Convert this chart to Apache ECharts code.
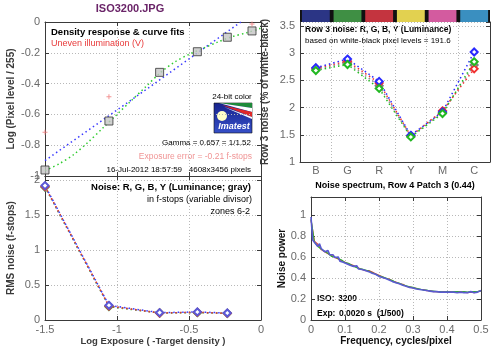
<!DOCTYPE html>
<html><head><meta charset="utf-8">
<script src="https://cdn.jsdelivr.net/npm/echarts@6/dist/echarts.min.js"></script>
<style>html,body{margin:0;padding:0;background:#fff}#c{width:500px;height:352px}</style>
</head><body><div id="c"></div>
<script>
// ---------- data ----------
const logExposure = [-1.5, -1.056, -0.704, -0.442, -0.234, -0.0625];
const logPixel = [-0.961, -0.643, -0.327, -0.193, -0.099, -0.058];
const unevenX = [-1.5, -1.056, -0.0625];
const unevenY = [-0.716, -0.485, -0.013];
const gammaFitX = [-1.5, -0.8, -0.14];
const gammaFitY = [-0.90, -0.44, 0.0];
const curveFitX = [-1.5, -1.4, -1.3, -1.2, -1.1, -1.0, -0.9, -0.8, -0.7, -0.6, -0.5, -0.4, -0.3, -0.2, -0.1, 0];
const curveFitY = [-0.965, -0.92, -0.86, -0.78, -0.69, -0.60, -0.51, -0.42, -0.33, -0.26, -0.21, -0.17, -0.13, -0.095, -0.07, -0.04];

const noiseStopsR = [1.91, 0.20, 0.10, 0.11, 0.095];
const noiseStopsG = [1.90, 0.19, 0.10, 0.105, 0.095];
const noiseStopsB = [1.92, 0.21, 0.105, 0.115, 0.10];
const noiseStopsY = [1.90, 0.20, 0.10, 0.11, 0.095];

const patches = ['B', 'G', 'R', 'Y', 'M', 'C'];
const patchColors = ['#2b3585', '#3f8f44', '#c4343f', '#e2d150', '#d35b9f', '#3a8fc0'];
const rowNoiseR = [2.72, 2.85, 2.45, 1.48, 1.94, 2.71];
const rowNoiseG = [2.68, 2.79, 2.35, 1.46, 1.89, 2.84];
const rowNoiseB = [2.73, 2.89, 2.48, 1.49, 1.92, 3.02];
const rowNoiseY = [2.70, 2.82, 2.40, 1.47, 1.91, 2.78];

const freq = [0,0.005,0.01,0.015,0.02,0.025,0.03,0.035,0.04,0.045,0.05,0.055,0.06,0.065,0.07,0.075,0.08,0.085,0.09,0.095,
0.1,0.105,0.11,0.115,0.12,0.125,0.13,0.135,0.14,0.145,0.15,0.155,0.16,0.165,0.17,0.175,0.18,0.185,0.19,0.195,
0.2,0.205,0.21,0.215,0.22,0.225,0.23,0.235,0.24,0.245,0.25,0.255,0.26,0.265,0.27,0.275,0.28,0.285,0.29,0.295,
0.3,0.305,0.31,0.315,0.32,0.325,0.33,0.335,0.34,0.345,0.35,0.355,0.36,0.365,0.37,0.375,0.38,0.385,0.39,0.395,
0.4,0.405,0.41,0.415,0.42,0.425,0.43,0.435,0.44,0.445,0.45,0.455,0.46,0.465,0.47,0.475,0.48,0.485,0.49,0.495,0.5];
const spectrumB = [0.98,0.76,0.74,0.735,0.70,0.725,0.68,0.665,0.65,0.64,0.66,0.62,0.605,0.62,0.595,0.59,0.60,0.56,0.575,0.55,
0.555,0.535,0.545,0.52,0.525,0.51,0.50,0.515,0.485,0.50,0.48,0.485,0.47,0.475,0.46,0.465,0.445,0.45,0.435,0.435,
0.415,0.42,0.405,0.405,0.395,0.395,0.38,0.38,0.365,0.37,0.355,0.355,0.345,0.345,0.33,0.335,0.32,0.325,0.31,0.315,
0.305,0.31,0.295,0.305,0.29,0.295,0.285,0.29,0.28,0.29,0.275,0.28,0.27,0.28,0.27,0.275,0.265,0.275,0.265,0.275,
0.265,0.275,0.265,0.28,0.265,0.27,0.26,0.275,0.265,0.27,0.26,0.275,0.26,0.265,0.27,0.28,0.26,0.275,0.265,0.275,0.28];
const freq2 = [0,0.01,0.02,0.03,0.04,0.05,0.06,0.07,0.08,0.09,0.1,0.11,0.12,0.13,0.14,0.15,0.16,0.17,0.18,0.19,
0.2,0.21,0.22,0.23,0.24,0.25,0.26,0.27,0.28,0.29,0.3,0.31,0.32,0.33,0.34,0.35,0.36,0.37,0.38,0.39,
0.4,0.41,0.42,0.43,0.44,0.45,0.46,0.47,0.48,0.49,0.5];
const spectrumR = [0.95,0.75,0.72,0.67,0.65,0.63,0.615,0.595,0.58,0.565,0.55,0.535,0.525,0.51,0.495,0.48,0.47,0.47,0.455,0.44,
0.425,0.41,0.395,0.39,0.37,0.36,0.345,0.34,0.32,0.315,0.305,0.30,0.29,0.29,0.28,0.28,0.27,0.27,0.265,0.27,
0.265,0.27,0.265,0.27,0.27,0.265,0.26,0.265,0.26,0.27,0.275];
const spectrumG = [0.96,0.74,0.70,0.675,0.655,0.635,0.605,0.60,0.585,0.57,0.545,0.54,0.52,0.505,0.49,0.485,0.475,0.465,0.45,0.435,
0.42,0.41,0.40,0.385,0.375,0.355,0.35,0.335,0.325,0.315,0.31,0.30,0.295,0.285,0.285,0.275,0.275,0.27,0.27,0.265,
0.27,0.265,0.27,0.27,0.265,0.27,0.265,0.27,0.27,0.27,0.28];

// ---------- helpers ----------
const FONT = 'Liberation Sans, Arial, sans-serif';
const zip = (xs, ys) => xs.map((x, i) => [x, ys[i]]);
const axisLineStyle = { color: '#3a3a3a', width: 1 };
const tickLbl = { color: '#6a6a6a', fontSize: 11, fontFamily: FONT };
const dotted = { show: true, lineStyle: { color: '#b8b8b8', type: [1, 2], width: 1 } };
function valAxis(grid, pos, min, max, interval, opts) {
  const main = pos === 'left' || pos === 'bottom';
  return Object.assign({
    type: 'value', gridIndex: grid, position: pos, min, max, interval,
    axisLine: { show: true, onZero: false, lineStyle: axisLineStyle },
    axisTick: { show: true, inside: true, length: 4, lineStyle: axisLineStyle },
    axisLabel: main ? Object.assign({ showMaxLabel: false, margin: 5 }, tickLbl) : { show: false },
    splitLine: main ? dotted : { show: false }
  }, opts || {});
}
const nameStyle = { fontFamily: FONT, fontWeight: 'bold', fontSize: 10, color: '#3a3a3a' };
const plusSym = 'path://M4,0H6V4H10V6H6V10H4V6H0V4H4Z';
const dotLine = (c) => ({ color: c, width: 1.5, type: [1.5, 3], cap: 'butt' });

const chart = echarts.init(document.getElementById('c'), null, { renderer: 'canvas' });

function txt(x, y, s, o) {
  return { type: 'text', x, y, silent: true, style: Object.assign({ text: s, fontFamily: FONT, fontSize: 8, fill: '#000', textVerticalAlign: 'middle', verticalAlign: 'middle' }, o || {}) };
}

const option = {
  animation: false,
  backgroundColor: '#fff',
  grid: [
    { left: 45, top: 22, width: 216, height: 154, containLabel: false, outerBoundsMode: 'none' },
    { left: 45, top: 176, width: 216, height: 144, containLabel: false, outerBoundsMode: 'none' },
    { left: 300, top: 22, width: 190, height: 140, containLabel: false, outerBoundsMode: 'none' },
    { left: 311, top: 197, width: 170, height: 123, containLabel: false, outerBoundsMode: 'none' },
    { left: 300, top: 10, width: 190, height: 12, show: true, backgroundColor: '#111', borderWidth: 0, containLabel: false, outerBoundsMode: 'none' }
  ],
  xAxis: [
    valAxis(0, 'bottom', -1.5, 0, 0.5, { axisLabel: { show: false } }),
    valAxis(0, 'top', -1.5, 0, 0.5),
    valAxis(1, 'bottom', -1.5, 0, 0.5, { axisLabel: Object.assign({ margin: 4 }, tickLbl), name: 'Log Exposure ( -Target density )', nameLocation: 'middle', nameGap: 16, nameTextStyle: Object.assign({}, nameStyle, { fontSize: 9.5 }) }),
    valAxis(1, 'top', -1.5, 0, 0.5),
    { type: 'category', gridIndex: 2, data: patches, position: 'bottom', boundaryGap: true,
      axisLine: { show: true, lineStyle: axisLineStyle }, axisTick: { show: false },
      axisLabel: Object.assign({ margin: 3 }, tickLbl), splitLine: dotted },
    valAxis(3, 'bottom', 0, 0.5, 0.1, { axisLabel: Object.assign({ margin: 4 }, tickLbl), name: 'Frequency, cycles/pixel', nameLocation: 'middle', nameGap: 15, nameTextStyle: Object.assign({}, nameStyle, { color: '#111' }) }),
    valAxis(3, 'top', 0, 0.5, 0.1),
    { type: 'category', gridIndex: 4, data: patches, show: false, boundaryGap: true }
  ],
  yAxis: [
    valAxis(0, 'left', -1, 0, 0.2, { axisLabel: Object.assign({ margin: 5, showMaxLabel: true, showMinLabel: true }, tickLbl), name: 'Log (Pixel level / 255)', nameLocation: 'middle', nameGap: 29, nameTextStyle: nameStyle }),
    valAxis(0, 'right', -1, 0, 0.2),
    valAxis(1, 'left', 0, 2.057, 0.5, { name: 'RMS noise (f-stops)', nameLocation: 'middle', nameGap: 29, nameTextStyle: nameStyle }),
    valAxis(1, 'right', 0, 2.057, 0.5),
    valAxis(2, 'left', 1, 3.57, 0.5, { name: 'Row 3 noise (% of white-black)', nameLocation: 'middle', nameGap: 30, nameTextStyle: nameStyle }),
    valAxis(2, 'right', 1, 3.57, 0.5),
    valAxis(3, 'left', 0, 1.17, 0.2, { name: 'Noise power', nameLocation: 'middle', nameGap: 24, nameTextStyle: Object.assign({}, nameStyle, { color: '#111' }) }),
    valAxis(3, 'right', 0, 1.17, 0.2),
    { type: 'value', gridIndex: 4, min: 0, max: 1, show: false }
  ],
  series: [
    // top-left
    { type: 'line', xAxisIndex: 0, yAxisIndex: 0, data: zip(gammaFitX, gammaFitY), showSymbol: false, lineStyle: dotLine('#3a3aff'), z: 3 },
    { type: 'line', xAxisIndex: 0, yAxisIndex: 0, data: zip(curveFitX, curveFitY), smooth: 0.3, showSymbol: false, lineStyle: dotLine('#2ecc2e'), z: 3 },
    { type: 'scatter', xAxisIndex: 0, yAxisIndex: 0, data: zip(logExposure, logPixel), symbol: 'rect', symbolSize: 8, clip: false,
      itemStyle: { color: '#c4c4c4', borderColor: '#333', borderWidth: 1 }, z: 4 },
    { type: 'scatter', xAxisIndex: 0, yAxisIndex: 0, data: zip(unevenX, unevenY), symbol: plusSym, symbolSize: 5, clip: false,
      itemStyle: { color: '#f07a7a' }, z: 4 },
    // bottom-left
    { type: 'line', xAxisIndex: 2, yAxisIndex: 2, data: zip(logExposure.slice(0, 5), noiseStopsG), symbol: 'emptyDiamond', symbolSize: 7, lineStyle: dotLine('#3ab83a'), itemStyle: { color: '#3ab83a', borderWidth: 1.3 }, z: 3 },
    { type: 'line', xAxisIndex: 2, yAxisIndex: 2, data: zip(logExposure.slice(0, 5), noiseStopsY), symbol: 'emptyDiamond', symbolSize: 7, lineStyle: dotLine('#8a8a8a'), itemStyle: { color: '#808080', borderWidth: 1.3 }, z: 3 },
    { type: 'line', xAxisIndex: 2, yAxisIndex: 2, data: zip(logExposure.slice(0, 5), noiseStopsR), symbol: 'emptyDiamond', symbolSize: 7, lineStyle: dotLine('#e03030'), itemStyle: { color: '#e03030', borderWidth: 1.3 }, z: 3 },
    { type: 'line', xAxisIndex: 2, yAxisIndex: 2, data: zip(logExposure.slice(0, 5), noiseStopsB), symbol: 'emptyDiamond', symbolSize: 7, lineStyle: Object.assign(dotLine('#3a3aff'), { dashOffset: 2 }), itemStyle: { color: '#5a5ad8', borderWidth: 1.3 }, z: 3 },
    // top-right
    { type: 'line', xAxisIndex: 4, yAxisIndex: 4, data: rowNoiseY, symbol: 'emptyDiamond', symbolSize: 7, lineStyle: dotLine('#909090'), itemStyle: { color: '#808080', borderWidth: 1.5 }, z: 3 },
    { type: 'line', xAxisIndex: 4, yAxisIndex: 4, data: rowNoiseR, symbol: 'emptyDiamond', symbolSize: 7, lineStyle: dotLine('#f03030'), itemStyle: { color: '#f03030', borderWidth: 1.5 }, z: 3 },
    { type: 'line', xAxisIndex: 4, yAxisIndex: 4, data: rowNoiseB, symbol: 'emptyDiamond', symbolSize: 7, lineStyle: dotLine('#2a2aff'), itemStyle: { color: '#2a2aff', borderWidth: 1.5 }, z: 3 },
    { type: 'line', xAxisIndex: 4, yAxisIndex: 4, data: rowNoiseG, symbol: 'emptyDiamond', symbolSize: 7, lineStyle: dotLine('#22c022'), itemStyle: { color: '#22b822', borderWidth: 1.5 }, z: 3 },
    // color bar
    { type: 'bar', xAxisIndex: 7, yAxisIndex: 8, barWidth: '88%', silent: true,
      data: patches.map((p, i) => ({ value: 1, itemStyle: { color: patchColors[i] } })) },
    // bottom-right spectrum
    { type: 'line', xAxisIndex: 5, yAxisIndex: 6, data: zip(freq2, spectrumR), showSymbol: false, lineStyle: { color: '#e04040', width: 1.2 }, z: 2 },
    { type: 'line', xAxisIndex: 5, yAxisIndex: 6, data: zip(freq2, spectrumG), showSymbol: false, lineStyle: { color: '#30b030', width: 1.2 }, z: 2 },
    { type: 'line', xAxisIndex: 5, yAxisIndex: 6, data: zip(freq, spectrumB), showSymbol: false, lineStyle: { color: '#5a5ad0', width: 1.6 }, z: 3 }
  ],
  graphic: [
    txt(130, 9, 'ISO3200.JPG', { fill: '#6a2468', fontWeight: 'bold', fontSize: 11, textAlign: 'center', align: 'center' }),
    txt(51, 32, 'Density response & curve fits', { fontWeight: 'bold', fontSize: 9.5 }),
    txt(51, 44, 'Uneven illumination (V)', { fill: '#e83a3a', fontSize: 9 }),
    txt(232, 97, '24-bit color', { textAlign: 'center', align: 'center' }),
    { type: 'group', silent: true, children: [
      { type: 'rect', shape: { x: 214, y: 103, width: 38, height: 30 }, style: { fill: new echarts.graphic.LinearGradient(0, 0, 0, 1, [{ offset: 0, color: '#16228c' }, { offset: 1, color: '#3650c8' }]), stroke: '#111', lineWidth: 0.6 } },
      { type: 'polygon', shape: { points: [[219, 103], [252, 103], [252, 108]] }, style: { fill: '#1e8a3a' } },
      { type: 'polygon', shape: { points: [[219, 103], [252, 108], [252, 112]] }, style: { fill: '#ffffff' } },
      { type: 'polygon', shape: { points: [[222, 105], [252, 112], [252, 117]] }, style: { fill: '#e02828' } },
      { type: 'polygon', shape: { points: [[224, 107], [252, 117], [252, 119]] }, style: { fill: '#ffffff' } },
      { type: 'circle', shape: { cx: 222, cy: 116, r: 5 }, style: { fill: '#ffffc8' } },
      { type: 'text', x: 234, y: 127, style: { text: 'Imatest', fill: '#fff', fontFamily: FONT, fontWeight: 'bold', fontStyle: 'italic', fontSize: 9, align: 'center', verticalAlign: 'middle', textAlign: 'center', textVerticalAlign: 'middle' } }
    ] },
    txt(251, 143, 'Gamma = 0.657 = 1/1.52', { textAlign: 'right', align: 'right' }),
    txt(252, 157, 'Exposure error = -0.21 f-stops', { fill: '#f09494', fontSize: 8.5, textAlign: 'right', align: 'right' }),
    txt(251, 170, '16-Jul-2012 18:57:59   4608x3456 pixels', { textAlign: 'right', align: 'right' }),
    txt(251, 187, 'Noise: R, G, B, Y (Luminance; gray)', { fontWeight: 'bold', fontSize: 9.5, textAlign: 'right', align: 'right' }),
    txt(252, 200, 'in f-stops (variable divisor)', { fontSize: 9, textAlign: 'right', align: 'right' }),
    txt(250, 212, 'zones 6-2', { fontSize: 9, textAlign: 'right', align: 'right' }),
    txt(305, 30, 'Row 3 noise: R, G, B, Y (Luminance)', { fontWeight: 'bold', fontSize: 8.5 }),
    txt(305, 41, 'based on white-black pixel levels = 191.6', { fontSize: 8 }),
    txt(395, 186, 'Noise spectrum, Row 4 Patch 3 (0.44)', { fontWeight: 'bold', fontSize: 9, textAlign: 'center', align: 'center' }),
    txt(317, 299, 'ISO:', { fontWeight: 'bold', fontSize: 8.5 }),
    txt(338, 299, '3200', { fontWeight: 'bold', fontSize: 8.5 }),
    txt(317, 314, 'Exp:', { fontWeight: 'bold', fontSize: 8.5 }),
    txt(339, 314, '0.0020 s  (1/500)', { fontWeight: 'bold', fontSize: 8.5 })
  ]
};
chart.setOption(option);
// keep the end labels ("0", "-1") of the top-left log axis visible, as in the reference
let changed = false;
chart.getZr().storage.traverse(el => {
  if (el.type === 'text' && el.ignore && (el.style.text === '0' || el.style.text === '-1') && el.x < 45 && el.y < 180) { el.ignore = false; changed = true; }
});
if (changed) chart.getZr().refresh();
</script>
</body></html>
